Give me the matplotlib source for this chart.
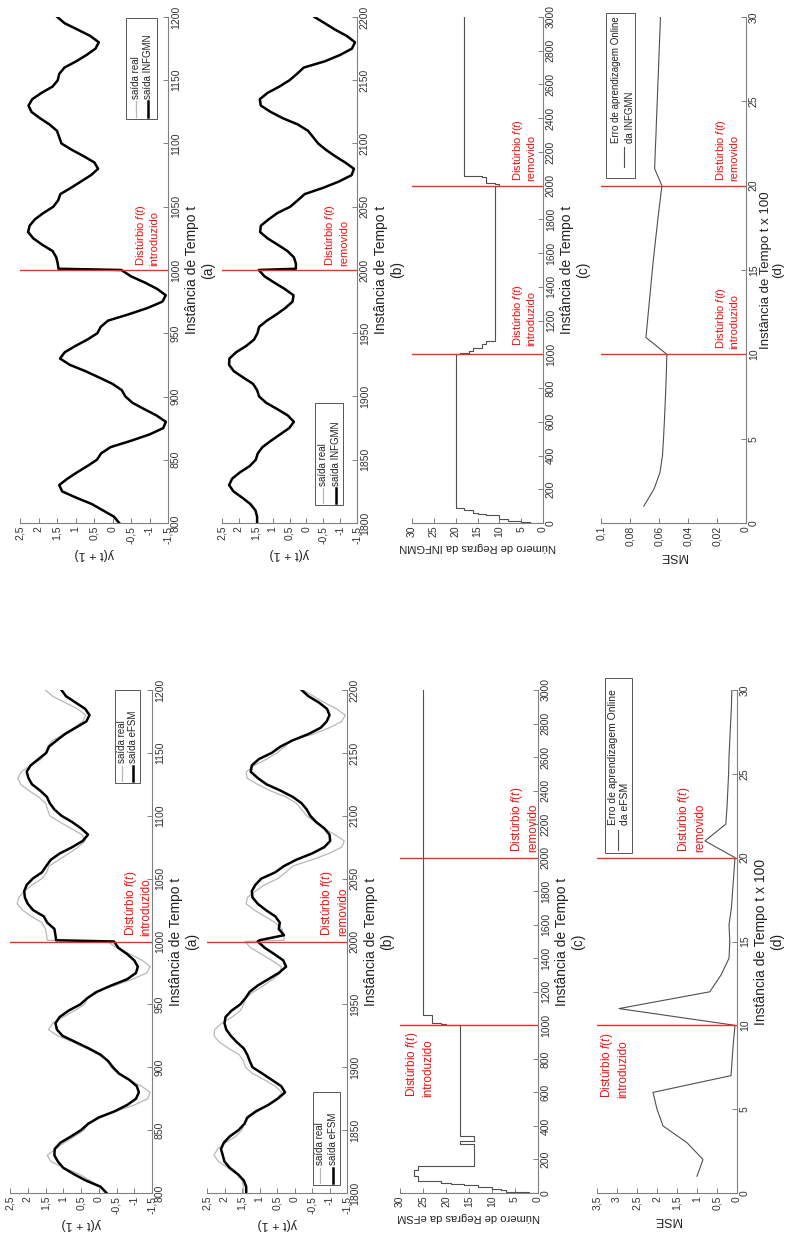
import matplotlib
matplotlib.use('Agg')
import matplotlib.pyplot as plt
from matplotlib.patches import Rectangle
from matplotlib.lines import Line2D

plt.rcParams['font.family'] = ['Liberation Sans', 'DejaVu Sans']
plt.rcParams['mathtext.fontset'] = 'custom'
plt.rcParams['mathtext.rm'] = 'Liberation Sans'
plt.rcParams['mathtext.it'] = 'Liberation Sans:italic'

W, H = 790, 1240

# ---- data ----
# (a) t = 800..1200, (b) t = 1800..2200, sampled every 5 steps plus the jump step
t_a = list(range(800, 1001, 5)) + [1001] + list(range(1005, 1201, 5))
t_b = list(range(1800, 2001, 5)) + [2001] + list(range(2005, 2201, 5))

real_a = [-0.20, -0.05, 0.25, 0.55, 0.97, 1.35, 1.45, 1.22, 0.97, 0.68, 0.42, 0.30, 0.05, -0.50,
          -1.00, -1.38, -1.45, -1.20, -0.86, -0.54, -0.35, -0.25, 0.00, 0.35, 0.72, 1.15, 1.42,
          1.30, 1.00, 0.68, 0.40, 0.32, 0.12, -0.45, -0.95, -1.35, -1.45, -1.22, -0.88, -0.50,
          -0.25, 1.45, 1.47, 1.50, 1.60, 1.90, 2.15, 2.30, 2.25, 2.10, 1.88, 1.60, 1.47, 1.40,
          1.12, 0.85, 0.58, 0.38, 0.48, 0.78, 1.10, 1.38, 1.44, 1.50, 1.70, 1.97, 2.20, 2.28,
          2.18, 1.92, 1.62, 1.48, 1.44, 1.30, 0.98, 0.70, 0.45, 0.36, 0.60, 0.95, 1.30, 1.50]
efsm_a = [-0.22, -0.05, 0.37, 0.70, 1.00, 1.15, 1.25, 1.24, 1.08, 0.78, 0.50, 0.30, 0.00, -0.45,
          -0.80, -1.05, -1.13, -1.07, -0.86, -0.57, -0.40, -0.26, -0.05, 0.28, 0.65, 1.02, 1.18,
          1.22, 1.10, 0.85, 0.52, 0.32, 0.05, -0.35, -0.80, -1.05, -1.10, -1.00, -0.80, -0.55,
          -0.43, 1.20, 1.22, 1.25, 1.45, 1.55, 1.85, 2.00, 2.08, 2.10, 2.03, 1.86, 1.60, 1.48,
          1.35, 1.10, 0.75, 0.45, 0.30, 0.50, 0.75, 1.05, 1.25, 1.38, 1.46, 1.65, 1.88, 1.98,
          2.03, 1.92, 1.70, 1.48, 1.40, 1.18, 0.95, 0.65, 0.35, 0.26, 0.38, 0.65, 0.92, 1.05]
infgmn_a = [-0.18, -0.04, 0.26, 0.56, 0.98, 1.36, 1.44, 1.22, 0.96, 0.68, 0.42, 0.31, 0.05, -0.50,
            -1.00, -1.37, -1.44, -1.19, -0.86, -0.54, -0.35, -0.25, 0.00, 0.36, 0.73, 1.15, 1.42,
            1.29, 1.00, 0.68, 0.41, 0.32, 0.12, -0.44, -0.95, -1.35, -1.44, -1.21, -0.88, -0.50,
            -0.24, 1.46, 1.48, 1.52, 1.62, 1.90, 2.14, 2.28, 2.24, 2.10, 1.87, 1.60, 1.47, 1.41,
            1.12, 0.85, 0.58, 0.39, 0.49, 0.78, 1.10, 1.38, 1.44, 1.50, 1.70, 1.96, 2.19, 2.27,
            2.17, 1.92, 1.62, 1.48, 1.44, 1.30, 0.98, 0.70, 0.46, 0.37, 0.60, 0.94, 1.29, 1.49]

real_b = [1.46, 1.46, 1.50, 1.65, 1.90, 2.17, 2.30, 2.20, 1.97, 1.68, 1.50, 1.44, 1.30, 1.05,
          0.77, 0.50, 0.36, 0.55, 0.86, 1.20, 1.40, 1.46, 1.58, 1.88, 2.15, 2.30, 2.28, 2.08,
          1.78, 1.55, 1.45, 1.40, 1.17, 0.88, 0.62, 0.40, 0.38, 0.65, 0.95, 1.25, 1.42, 0.30,
          0.30, 0.36, 0.55, 0.85, 1.15, 1.38, 1.35, 1.12, 0.86, 0.48, 0.25, 0.05, -0.50, -0.98,
          -1.35, -1.42, -1.15, -0.85, -0.58, -0.35, -0.20, -0.05, 0.25, 0.70, 1.06, 1.36, 1.38,
          1.15, 0.80, 0.50, 0.28, 0.08, -0.55, -1.00, -1.35, -1.45, -1.20, -0.85, -0.55, -0.24]
efsm_b = [1.38, 1.38, 1.45, 1.62, 1.85, 2.00, 2.05, 2.10, 2.02, 1.85, 1.60, 1.43, 1.35, 1.10,
          0.75, 0.48, 0.27, 0.38, 0.65, 0.92, 1.20, 1.28, 1.35, 1.45, 1.65, 1.82, 1.95, 2.00,
          1.97, 1.80, 1.55, 1.40, 1.28, 1.05, 0.75, 0.45, 0.24, 0.32, 0.58, 0.85, 1.05, 1.00,
          0.30, 0.45, 0.42, 0.55, 0.82, 1.05, 1.20, 1.22, 1.12, 0.95, 0.55, 0.30, -0.05, -0.50,
          -0.85, -1.02, -1.00, -0.85, -0.62, -0.45, -0.35, -0.20, 0.05, 0.40, 0.80, 1.05, 1.25,
          1.22, 1.02, 0.65, 0.40, 0.05, -0.40, -0.75, -0.92, -1.00, -0.93, -0.70, -0.40, -0.20]
infgmn_b = [1.46, 1.46, 1.51, 1.66, 1.90, 2.16, 2.29, 2.20, 1.97, 1.68, 1.50, 1.44, 1.30, 1.05,
            0.78, 0.51, 0.37, 0.55, 0.86, 1.19, 1.40, 1.46, 1.58, 1.87, 2.15, 2.29, 2.28, 2.08,
            1.78, 1.55, 1.45, 1.40, 1.17, 0.88, 0.62, 0.41, 0.38, 0.64, 0.95, 1.24, 1.41, 0.31,
            0.31, 0.37, 0.56, 0.85, 1.15, 1.37, 1.35, 1.12, 0.86, 0.48, 0.26, 0.05, -0.50, -0.97,
            -1.34, -1.41, -1.15, -0.85, -0.58, -0.35, -0.20, -0.05, 0.25, 0.70, 1.06, 1.35, 1.38,
            1.15, 0.80, 0.50, 0.28, 0.08, -0.55, -1.00, -1.35, -1.44, -1.20, -0.85, -0.55, -0.24]

# (c) number of rules (step changes)
efsm_rules_t = [0, 3, 8, 15, 25, 35, 45, 55, 62, 70, 100, 140, 160, 290, 310, 340, 1000, 1005,
                1012, 1060, 1250, 3000]
efsm_rules_n = [0, 2, 5, 7, 8, 10, 13, 16, 19, 21, 26, 27, 26, 14, 17, 14, 17, 20, 21, 23, 25, 25]
infgmn_rules_t = [0, 4, 10, 25, 45, 55, 62, 75, 87, 1000, 1010, 1020, 1040, 1060, 1080, 1097,
                  2000, 2010, 2018, 2050, 2060, 2105, 3000]
infgmn_rules_n = [0, 3, 5, 8, 10, 13, 15, 16, 18, 20, 19, 17, 16, 14, 13, 11, 11, 10, 11, 13, 14,
                  18, 18]

# (d) online learning MSE, t x 100
mse_t = list(range(1, 31))
efsm_mse = [1.00, 0.85, 1.25, 1.85, 2.00, 2.10, 0.15, 0.12, 0.09, 0.05, 2.95, 0.68, 0.40, 0.20,
            0.18, 0.20, 0.14, 0.11, 0.08, 0.05, 0.80, 0.28, 0.25, 0.23, 0.21, 0.20, 0.18, 0.16,
            0.14, 0.13]
infgmn_mse = [0.0705, 0.0635, 0.0593, 0.0576, 0.0569, 0.0563, 0.0558, 0.0553, 0.0549, 0.0546,
              0.0690, 0.0679, 0.0668, 0.0657, 0.0646, 0.0634, 0.0621, 0.0608, 0.0594, 0.0580,
              0.0630, 0.0626, 0.0621, 0.0617, 0.0612, 0.0608, 0.0603, 0.0599, 0.0594, 0.0590]

y_ticks = [2.5, 2, 1.5, 1, 0.5, 0, -0.5, -1, -1.5]
y_tick_labels = ['2,5', '2', '1,5', '1', '0,5', '0', '-0,5', '-1', '-1,5']
rule_ticks = [30, 25, 20, 15, 10, 5, 0]
mse_ticks_infgmn = [0.1, 0.08, 0.06, 0.04, 0.02, 0]
mse_labels_infgmn = ['0,1', '0,08', '0,06', '0,04', '0,02', '0']
mse_ticks_efsm = [3.5, 3, 2.5, 2, 1.5, 1, 0.5, 0]
mse_labels_efsm = ['3,5', '3', '2,5', '2', '1,5', '1', '0,5', '0']

REAL_C = '#b8b8b8'
AX_C = '#808080'
TXT_C = '#333333'
RED = '#f22a2a'
LINE_C = '#505050'

fig = plt.figure(figsize=(W / 100, H / 100), dpi=100)


def add_ax(x0, x1, ytop, ybot):
    return fig.add_axes([x0 / W, 1 - ybot / H, (x1 - x0) / W, (ybot - ytop) / H])


def style(ax, vlim, vticks, vlabels, tlim, tticks, tlabel, vlabel, vfs=9, tfs=10, tpad=3,
          tls=1.2):
    ax.set_xlim(vlim)
    ax.set_ylim(tlim)
    ax.patch.set_alpha(0)
    for s in ['top', 'left']:
        ax.spines[s].set_visible(False)
    for s in ['bottom', 'right']:
        ax.spines[s].set_color(AX_C)
        ax.spines[s].set_linewidth(0.8)
    ax.yaxis.tick_right()
    ax.yaxis.set_label_position('right')
    ax.tick_params(direction='in', length=3.5, width=0.7, color=AX_C, labelcolor=TXT_C,
                   labelsize=7.5, pad=2)
    ax.set_xticks(vticks)
    ax.set_xticklabels(vlabels, rotation=90)
    ax.set_yticks(tticks)
    ax.set_yticklabels([str(v) for v in tticks], rotation=90, va='center')
    ax.set_ylabel(tlabel, rotation=90, fontsize=tfs, labelpad=tpad, multialignment='center',
                  color='#222222', linespacing=tls)
    ax.set_xlabel(vlabel, rotation=180, fontsize=vfs, labelpad=3, color='#222222')


def disturb(ax, v, t, word, fs):
    ax.text(v, t, 'Distúrbio $\\mathit{f(t)}$\n' + word, color='#ee1111', fontsize=fs,
            rotation=90, rotation_mode='anchor', ha='left', va='top', multialignment='left')


def rot_legend(box, cols, samples, fs):
    # box and positions in image pixels (x right, y down)
    x0, x1, ytop, ybot = box
    fig.add_artist(Rectangle((x0 / W, 1 - ybot / H), (x1 - x0) / W, (ybot - ytop) / H,
                             transform=fig.transFigure, fill=False, ec='#555555', lw=0.7))
    for xs, ys0, ys1, color, lw in samples:
        fig.add_artist(Line2D([xs / W, xs / W], [1 - ys0 / H, 1 - ys1 / H],
                              transform=fig.transFigure, color=color, lw=lw))
    for xc, yt, label in cols:
        fig.text(xc / W, 1 - yt / H, label, fontsize=fs, color='#222222', rotation=90,
                 rotation_mode='anchor', ha='left', va='center')


# ---------------- INFGMN (top half of the page) ----------------
ax = add_ax(20, 168, 17, 523)
ax.plot(real_a, t_a, color=REAL_C, lw=0.9)
ax.plot(infgmn_a, t_a, color='k', lw=1.8)
ax.axhline(1000, color=RED, lw=1.0)
disturb(ax, -0.58, 1003, 'introduzido', 8)
style(ax, (2.5, -1.5), y_ticks, y_tick_labels, (800, 1200), list(range(800, 1201, 50)),
      'Instância de Tempo t\n(a)', 'y(t + 1)')
rot_legend((126, 157, 18, 119), [(136, 99, 'saída real'), (148, 99, 'saída INFGMN')],
           [(136, 117, 101, REAL_C, 0.9), (148, 117, 101, 'k', 1.8)], 7)

ax = add_ax(222, 357, 17, 523)
ax.plot(real_b, t_b, color=REAL_C, lw=0.9)
ax.plot(infgmn_b, t_b, color='k', lw=1.8)
ax.axhline(2000, color=RED, lw=1.0)
disturb(ax, -0.5, 2003, 'removido', 8)
style(ax, (2.5, -1.5), y_ticks, y_tick_labels, (1800, 2200), list(range(1800, 2201, 50)),
      'Instância de Tempo t\n(b)', 'y(t + 1)')
rot_legend((315, 343, 403, 505), [(323, 486, 'saída real'), (336, 486, 'saída INFGMN')],
           [(323, 503, 488, REAL_C, 0.9), (336, 503, 488, 'k', 1.8)], 7)

ax = add_ax(412, 543, 17, 523)
ax.plot(infgmn_rules_n, infgmn_rules_t, color=LINE_C, lw=0.8, drawstyle='steps-post')
for tl in (1000, 2000):
    ax.axhline(tl, color=RED, lw=1.0)
disturb(ax, 7.3, 1050, 'introduzido', 8)
disturb(ax, 7.3, 2030, 'removido', 8)
style(ax, (30, 0), rule_ticks, [str(v) for v in rule_ticks], (0, 3000),
      list(range(0, 3001, 200)), 'Instância de Tempo t\n(c)', 'Número de Regras da INFGMN', 8)

ax = add_ax(601, 746, 17, 523)
ax.plot(infgmn_mse, mse_t, color=LINE_C, lw=0.8)
for tl in (10, 20):
    ax.axhline(tl, color=RED, lw=1.0)
disturb(ax, 0.0222, 10.3, 'introduzido', 8)
disturb(ax, 0.0222, 20.3, 'removido', 8)
style(ax, (0.1, 0), mse_ticks_infgmn, mse_labels_infgmn, (0, 30), list(range(0, 31, 5)),
      'Instância de Tempo t x 100\n(d)', 'MSE', tfs=9.5, tpad=1, tls=1.0)
rot_legend((606, 635, 13, 178), [(616, 143, 'Erro de aprendizagem Online'),
                                 (630, 143, 'da INFGMN')],
           [(624, 167, 147, LINE_C, 0.8)], 7)

# ---------------- eFSM (bottom half of the page) ----------------
ax = add_ax(10, 152, 690, 1193)
ax.plot(real_a, t_a, color=REAL_C, lw=0.9)
ax.plot(efsm_a, t_a, color='k', lw=1.8)
ax.axhline(1000, color=RED, lw=1.0)
disturb(ax, -0.67, 1004, 'introduzido', 8.5)
style(ax, (2.5, -1.5), y_ticks, y_tick_labels, (800, 1200), list(range(800, 1201, 50)),
      'Instância de Tempo t\n(a)', 'y(t + 1)')
rot_legend((115, 140, 690, 783), [(122, 763, 'saída real'), (133, 763, 'saída eFSM')],
           [(122, 781, 766, REAL_C, 0.9), (133, 781, 766, 'k', 1.8)], 7)

ax = add_ax(207, 347, 690, 1193)
ax.plot(real_b, t_b, color=REAL_C, lw=0.9)
ax.plot(efsm_b, t_b, color='k', lw=1.8)
ax.axhline(2000, color=RED, lw=1.0)
disturb(ax, -0.7, 2004, 'removido', 8.5)
style(ax, (2.5, -1.5), y_ticks, y_tick_labels, (1800, 2200), list(range(1800, 2201, 50)),
      'Instância de Tempo t\n(b)', 'y(t + 1)')
rot_legend((313, 340, 1092, 1185), [(320, 1165, 'saída real'), (333, 1165, 'saída eFSM')],
           [(320, 1183, 1168, REAL_C, 0.9), (333, 1183, 1168, 'k', 1.8)], 7)

ax = add_ax(400, 538, 690, 1193)
ax.plot(efsm_rules_n, efsm_rules_t, color=LINE_C, lw=0.8, drawstyle='steps-post')
for tl in (1000, 2000):
    ax.axhline(tl, color=RED, lw=1.0)
disturb(ax, 29.1, 574, 'introduzido', 8.5)
disturb(ax, 6.3, 2036, 'removido', 8.5)
style(ax, (30, 0), rule_ticks, [str(v) for v in rule_ticks], (0, 3000),
      list(range(0, 3001, 200)), 'Instância de Tempo t\n(c)', 'Número de Regras da eFSM', 8)

ax = add_ax(597, 737, 690, 1193)
ax.plot(efsm_mse, mse_t, color=LINE_C, lw=0.8)
for tl in (10, 20):
    ax.axhline(tl, color=RED, lw=1.0)
disturb(ax, 3.45, 5.67, 'introduzido', 8.5)
disturb(ax, 1.52, 20.36, 'removido', 8.5)
style(ax, (3.5, 0), mse_ticks_efsm, mse_labels_efsm, (0, 30), list(range(0, 31, 5)),
      'Instância de Tempo t x 100\n(d)', 'MSE')
rot_legend((605, 632, 678, 853), [(613, 825, 'Erro de aprendizagem Online'),
                                  (625, 825, 'da eFSM')],
           [(618, 850, 830, LINE_C, 0.8)], 7.5)

fig.savefig('out.png', dpi=100)
